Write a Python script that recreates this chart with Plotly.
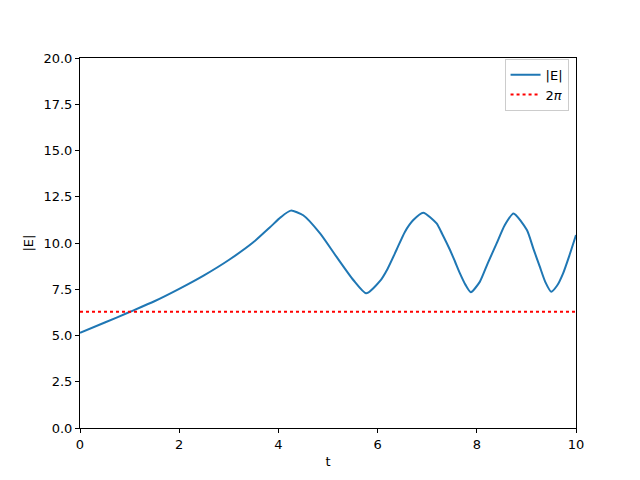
import math

import plotly.graph_objects as go

# |E|
t = [0, 0.5, 1.0, 1.5, 2.0, 2.5, 3.0, 3.5, 3.83, 4.05, 4.25, 4.5, 4.84,
     5.17, 5.51, 5.77, 6.05, 6.2, 6.38, 6.55, 6.72, 6.92, 7.19, 7.3, 7.46,
     7.56, 7.66, 7.77, 7.88, 8.06, 8.22, 8.4, 8.56, 8.74, 9.01, 9.14, 9.27,
     9.38, 9.5, 9.62, 9.74, 9.87, 10.0]
E = [5.15, 5.7, 6.27, 6.85, 7.52, 8.25, 9.08, 10.05, 10.85, 11.4, 11.75,
     11.5, 10.52, 9.26, 8.0, 7.28, 7.95, 8.6, 9.62, 10.6, 11.24, 11.64, 11.06,
     10.5, 9.62, 9.0, 8.36, 7.75, 7.34, 7.9, 8.9, 9.98, 10.95, 11.6, 10.7,
     9.7, 8.72, 7.9, 7.37, 7.7, 8.36, 9.35, 10.43]

two_pi = 2 * math.pi

fig = go.Figure()

fig.add_trace(go.Scatter(
    x=t, y=E, mode="lines", name="|E|",
    line=dict(color="#1f77b4", width=2, shape="spline", smoothing=0.6),
))

fig.add_trace(go.Scatter(
    x=[0, 10], y=[two_pi, two_pi], mode="lines", name="2<i>π</i>",
    line=dict(color="red", width=2, dash="dot"),
))

axis_style = dict(
    showline=True, mirror=True, linecolor="black", linewidth=1,
    ticks="outside", ticklen=4, tickcolor="black",
    showgrid=False, zeroline=False,
    tickfont=dict(size=13, color="black"),
)

fig.update_xaxes(range=[0, 10], dtick=2, title_text="t",
                 title_font=dict(size=13), title_standoff=6, **axis_style)
fig.update_yaxes(range=[0, 20], dtick=2.5, tickformat=".1f", title_text="|E|",
                 title_font=dict(size=13), title_standoff=6, **axis_style)

# page body adds 8px, so margins are shifted to land the axes at 80..576, 58..428
fig.update_layout(
    width=640, height=480,
    margin=dict(l=72, r=72, t=50, b=60),
    paper_bgcolor="white", plot_bgcolor="white",
    font=dict(family="DejaVu Sans", size=13, color="black"),
    legend=dict(x=0.985, y=0.998, xanchor="right", yanchor="top",
                bordercolor="#cccccc", borderwidth=1, bgcolor="white",
                font=dict(size=13)),
)

fig.write_html("out.html")
